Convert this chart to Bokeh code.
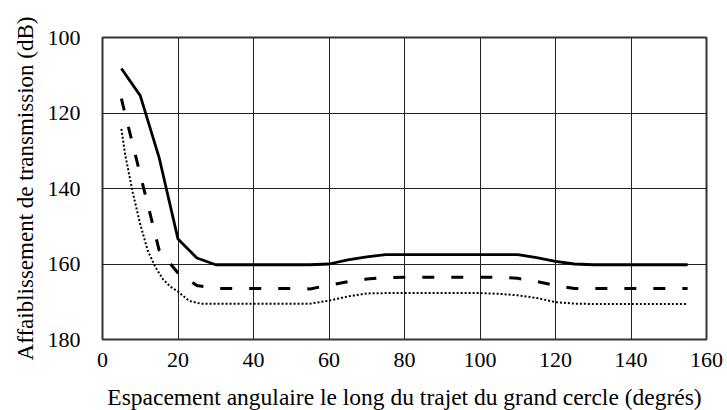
from bokeh.plotting import figure
from bokeh.models import Range1d, FixedTicker
from bokeh.embed import file_html
from bokeh.resources import INLINE

# Data
x_solid = [5, 10, 15, 20, 25, 30, 35, 40, 45, 50, 55, 60, 65, 70, 75, 80, 85, 90,
           95, 100, 105, 110, 115, 120, 125, 130, 135, 140, 145, 150, 155]
y_solid = [108.2, 115.4, 131.8, 153.4, 158.4, 160.2, 160.2, 160.2, 160.2, 160.2, 160.2,
           160.0, 158.9, 158.1, 157.5, 157.5, 157.5, 157.5, 157.5, 157.5, 157.5, 157.5,
           158.3, 159.3, 160.0, 160.2, 160.2, 160.2, 160.2, 160.2, 160.2]

x_dashed = [5, 10, 15, 20, 25, 30, 35, 40, 45, 50, 55, 60, 65, 70, 75, 80, 85, 90,
            95, 100, 105, 110, 115, 120, 125, 130, 135, 140, 145, 150, 155]
y_dashed = [116.2, 136.3, 156.3, 162.4, 165.7, 166.5, 166.5, 166.5, 166.5, 166.5, 166.6,
            165.6, 164.7, 164.0, 163.6, 163.5, 163.5, 163.5, 163.5, 163.5, 163.5, 163.8,
            164.6, 165.7, 166.5, 166.5, 166.5, 166.5, 166.5, 166.5, 166.5]

x_dotted = [5, 6, 8, 10, 12, 14, 16, 18, 20, 23, 26, 30, 35, 40, 45, 50, 55, 60, 65,
            70, 75, 80, 85, 90, 95, 100, 105, 110, 115, 120, 125, 130, 135, 140, 145,
            150, 155]
y_dotted = [124.2, 131.0, 141.0, 149.5, 156.5, 160.8, 164.0, 166.0, 167.3, 169.8, 170.5,
            170.5, 170.5, 170.5, 170.5, 170.5, 170.5, 169.7, 168.6, 167.8, 167.7, 167.7,
            167.7, 167.7, 167.7, 167.7, 167.9, 168.3, 169.0, 170.1, 170.5, 170.6, 170.6,
            170.6, 170.6, 170.6, 170.6]

x_ticks = [0, 20, 40, 60, 80, 100, 120, 140, 160]
y_ticks = [100, 120, 140, 160, 180]

x_label = "Espacement angulaire le long du trajet du grand cercle (degrés)"
y_label = "Affaiblissement de transmission (dB)"

FONT = "'Liberation Serif', 'Times New Roman', serif"

p = figure(width=727, height=410, frame_width=604, frame_height=302,
           output_backend="svg", toolbar_location=None,
           x_range=Range1d(0, 160), y_range=Range1d(180, 100),
           min_border_left=102, min_border_right=21, min_border_top=37,
           min_border_bottom=71)

p.background_fill_color = "white"
p.border_fill_color = "white"
p.outline_line_color = "#333333"
p.outline_line_width = 2

p.xaxis.ticker = FixedTicker(ticks=x_ticks)
p.yaxis.ticker = FixedTicker(ticks=y_ticks)

for ax in (p.xaxis[0], p.yaxis[0]):
    ax.axis_line_color = None
    ax.major_tick_line_color = None
    ax.minor_tick_line_color = None
    ax.major_label_text_font = FONT
    ax.major_label_text_font_size = "22px"
    ax.major_label_text_color = "black"
    ax.axis_label_text_font = FONT
    ax.axis_label_text_font_style = "normal"
    ax.axis_label_text_color = "black"

p.xaxis.axis_label = x_label
p.yaxis.axis_label = y_label
p.xaxis.axis_label_text_font_size = "23.5px"
p.yaxis.axis_label_text_font_size = "23px"
p.xaxis.major_label_standoff = 7
p.yaxis.major_label_standoff = 16
p.xaxis.axis_label_standoff = 14
p.yaxis.axis_label_standoff = 7

p.xgrid.grid_line_color = "#222222"
p.ygrid.grid_line_color = "#222222"
p.xgrid.grid_line_width = 1
p.ygrid.grid_line_width = 1

p.line(x_solid, y_solid, line_color="black", line_width=2.8)
p.line(x_dashed, y_dashed, line_color="black", line_width=3, line_dash="12 17")
p.line(x_dotted, y_dotted, line_color="black", line_width=2, line_dash="2 2")

open("out.html", "w").write(file_html(p, INLINE))
